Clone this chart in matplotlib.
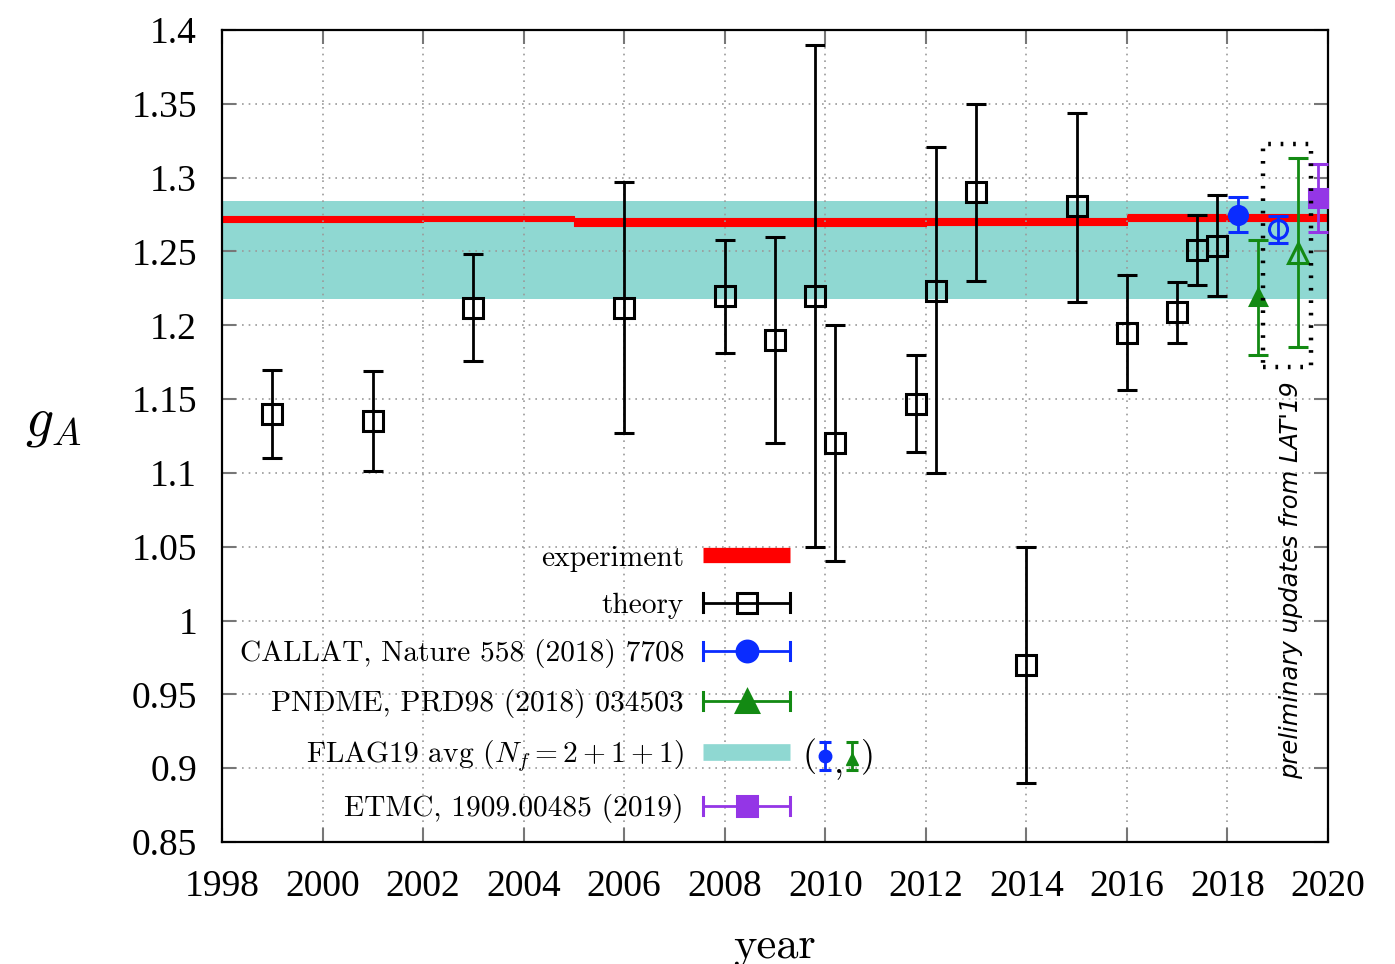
import numpy as np
import matplotlib
matplotlib.use("Agg")
import matplotlib.pyplot as plt
from matplotlib.lines import Line2D
from matplotlib.legend_handler import HandlerBase
from matplotlib.patches import Rectangle

plt.rcParams["mathtext.fontset"] = "cm"
plt.rcParams["axes.unicode_minus"] = False

# ============================================
# DATA
# ============================================
# experiment: PDG value as a step band
exp_start = [1998, 2002, 2005, 2012, 2016]
exp_end = [2002, 2005, 2012, 2016, 2020]
exp_val = [1.2720, 1.2723, 1.2699, 1.2701, 1.2731]
exp_err = [0.0020, 0.0017, 0.0026, 0.0025, 0.0023]

# FLAG19 average (Nf = 2+1+1)
flag_val = 1.251
flag_err = 0.033

# theory points (asymmetric errors)
theory_year = [1999.0, 2001.0, 2003.0, 2006.0, 2008.0, 2009.0, 2009.8, 2010.2, 2011.8,
               2012.2, 2013.0, 2014.0, 2015.0, 2016.0, 2017.0, 2017.4, 2017.8]
theory_val = [1.140, 1.135, 1.212, 1.212, 1.220, 1.190, 1.220, 1.120, 1.147,
              1.223, 1.290, 0.970, 1.281, 1.195, 1.209, 1.251, 1.254]
theory_lo = [0.030, 0.034, 0.036, 0.085, 0.039, 0.070, 0.170, 0.080, 0.033,
             0.123, 0.060, 0.080, 0.065, 0.039, 0.021, 0.024, 0.034]
theory_hi = [0.030, 0.034, 0.036, 0.085, 0.038, 0.070, 0.170, 0.080, 0.033,
             0.098, 0.060, 0.080, 0.063, 0.039, 0.020, 0.024, 0.034]

callat_year, callat_val, callat_err = [2018.2], [1.275], [0.012]
pndme_year, pndme_val, pndme_err = [2018.6], [1.219], [0.039]
etmc_year, etmc_val, etmc_err = [2019.8], [1.286], [0.023]

# preliminary LAT'19 updates (open symbols)
callat19_year, callat19_val, callat19_err = [2019.0], [1.265], [0.009]
pndme19_year, pndme19_val, pndme19_err = [2019.4], [1.249], [0.064]
lat19_box = [2018.7, 1.172, 2019.66, 1.323]  # x0, y0, x1, y1

legend_labels = ["experiment", "theory", "CALLAT, Nature 558 (2018) 7708",
                 "PNDME, PRD98 (2018) 034503", r"FLAG19 avg ($N_f = 2 + 1 + 1$)",
                 "ETMC, 1909.00485 (2019)"]

# colours
RED = "#ff0000"
TEAL = "#8fd8d2"
BLUE = "#0a2cff"
GREEN = "#138a13"
PURPLE = "#9436e6"


class HBarHandler(HandlerBase):
    # horizontal error bar with caps and a marker in the middle (gnuplot style)
    def create_artists(self, legend, orig_handle, xdescent, ydescent,
                       width, height, fontsize, trans):
        color = orig_handle.get_color()
        y = height / 2 - ydescent
        x0, x1 = -xdescent, width - xdescent
        c = 6.5
        line = Line2D([x0, x1], [y, y], color=color, lw=2)
        caps = Line2D([x0, x0, np.nan, x1, x1], [y - c, y + c, np.nan, y - c, y + c],
                      color=color, lw=2.2)
        mark = Line2D([(x0 + x1) / 2], [y], marker=orig_handle.get_marker(),
                      ms=orig_handle.get_markersize(),
                      mfc=orig_handle.get_markerfacecolor(), mec=color, mew=2.2)
        for a in (line, caps, mark):
            a.set_transform(trans)
        return [line, caps, mark]


fig = plt.figure(figsize=(13.95, 9.64), dpi=100)
ax = fig.add_axes([222 / 1395, 1 - 842 / 964, (1328 - 222) / 1395, (842 - 30) / 964])

# bands
ax.axhspan(flag_val - flag_err, flag_val + flag_err, color=TEAL, lw=0, zorder=1)
for s, e, v, d in zip(exp_start, exp_end, exp_val, exp_err):
    ax.fill_between([s, e], v - d, v + d, color=RED, lw=0.8, zorder=1.2)


def draw(x, y, yerr, color, marker, filled, ms):
    ax.errorbar(x, y, yerr=yerr, fmt=marker, color=color, ecolor=color,
                mfc=color if filled else "none", mec=color, ms=ms, mew=2.2,
                elinewidth=2, capsize=7, capthick=2.2, zorder=4, clip_on=False)


draw(theory_year, theory_val, [theory_lo, theory_hi], "black", "s", False, 14)
draw(callat_year, callat_val, callat_err, BLUE, "o", True, 13)
draw(pndme_year, pndme_val, pndme_err, GREEN, "^", True, 12)
draw(callat19_year, callat19_val, callat19_err, BLUE, "o", False, 13)
draw(pndme19_year, pndme19_val, pndme19_err, GREEN, "^", False, 14)
draw(etmc_year, etmc_val, etmc_err, PURPLE, "s", True, 13)

# dotted box around the LAT'19 updates
ax.add_patch(Rectangle((lat19_box[0], lat19_box[1]), lat19_box[2] - lat19_box[0],
                       lat19_box[3] - lat19_box[1], fill=False, ec="black",
                       lw=3.2, ls=(0, (0.6, 2.2)), zorder=5))
ax.text(0.967, 0.323, "preliminary updates from LAT'19", rotation=90,
        transform=ax.transAxes, ha="center", va="center", fontsize=17.5,
        family="DejaVu Sans", style="italic", color="black")

# axes
ax.set_xlim(1998, 2020)
ax.set_ylim(0.85, 1.4)
ax.set_xticks(np.arange(1998, 2021, 2))
ax.set_yticks(np.round(np.arange(0.85, 1.401, 0.05), 2))
ax.set_yticklabels([f"{v:g}" for v in np.round(np.arange(0.85, 1.401, 0.05), 2)])
ax.grid(True, color="#9a9a9a", ls=(0, (1, 3)), lw=1.2)
ax.tick_params(direction="in", length=10, width=1.5, color="#777777",
               top=True, right=True, labelsize=27, labelfontfamily="Liberation Serif",
               pad=20)
ax.tick_params(axis="y", pad=18)
for sp in ax.spines.values():
    sp.set_linewidth(1.6)

ax.set_xlabel("year", family="cmr10", fontsize=32, labelpad=16)
fig.text(53 / 1395, 1 - 422 / 964, r"$g_A$", fontsize=40, ha="center", va="center")

# legend
h_exp = Line2D([], [], color=RED, lw=11, solid_capstyle="butt")
h_th = Line2D([], [], color="black", marker="s", mfc="none", ms=14)
h_callat = Line2D([], [], color=BLUE, marker="o", mfc=BLUE, ms=15)
h_pndme = Line2D([], [], color=GREEN, marker="^", mfc=GREEN, ms=16)
h_flag = Line2D([], [], color=TEAL, lw=12, solid_capstyle="butt")
h_etmc = Line2D([], [], color=PURPLE, marker="s", mfc=PURPLE, ms=14)
hb = HBarHandler()
ax.legend([h_exp, h_th, h_callat, h_pndme, h_flag, h_etmc], legend_labels,
          handler_map={h_th: hb, h_callat: hb, h_pndme: hb, h_etmc: hb},
          loc="upper right", bbox_to_anchor=(790 / 1395, 1 - 545 / 964),
          bbox_transform=fig.transFigure, frameon=False, markerfirst=False,
          prop={"family": "cmr10", "size": 21.2}, handlelength=2.95,
          handletextpad=0.65, labelspacing=0.70, borderpad=0, borderaxespad=0)

# "(blue, green)" note next to the FLAG entry
ty = 1 - 756 / 964
fig.text(809 / 1395, ty, "(", family="cmr10", fontsize=26, ha="center", va="center")
fig.text(839 / 1395, 1 - 763 / 964, ",", family="cmr10", fontsize=26, ha="center", va="center")
fig.text(868 / 1395, ty, ")", family="cmr10", fontsize=26, ha="center", va="center")
for px, col, mk, cy in [(825, BLUE, "o", 756), (852, GREEN, "^", 759)]:
    fx = px / 1395
    fig.add_artist(Line2D([fx, fx], [1 - 742 / 964, 1 - 770 / 964], color=col, lw=2,
                          marker="_", ms=8, mew=2.2, transform=fig.transFigure))
    fig.add_artist(Line2D([fx], [1 - cy / 964], color=col, marker=mk, ms=9,
                          transform=fig.transFigure))

fig.savefig("out.png", dpi=100)
